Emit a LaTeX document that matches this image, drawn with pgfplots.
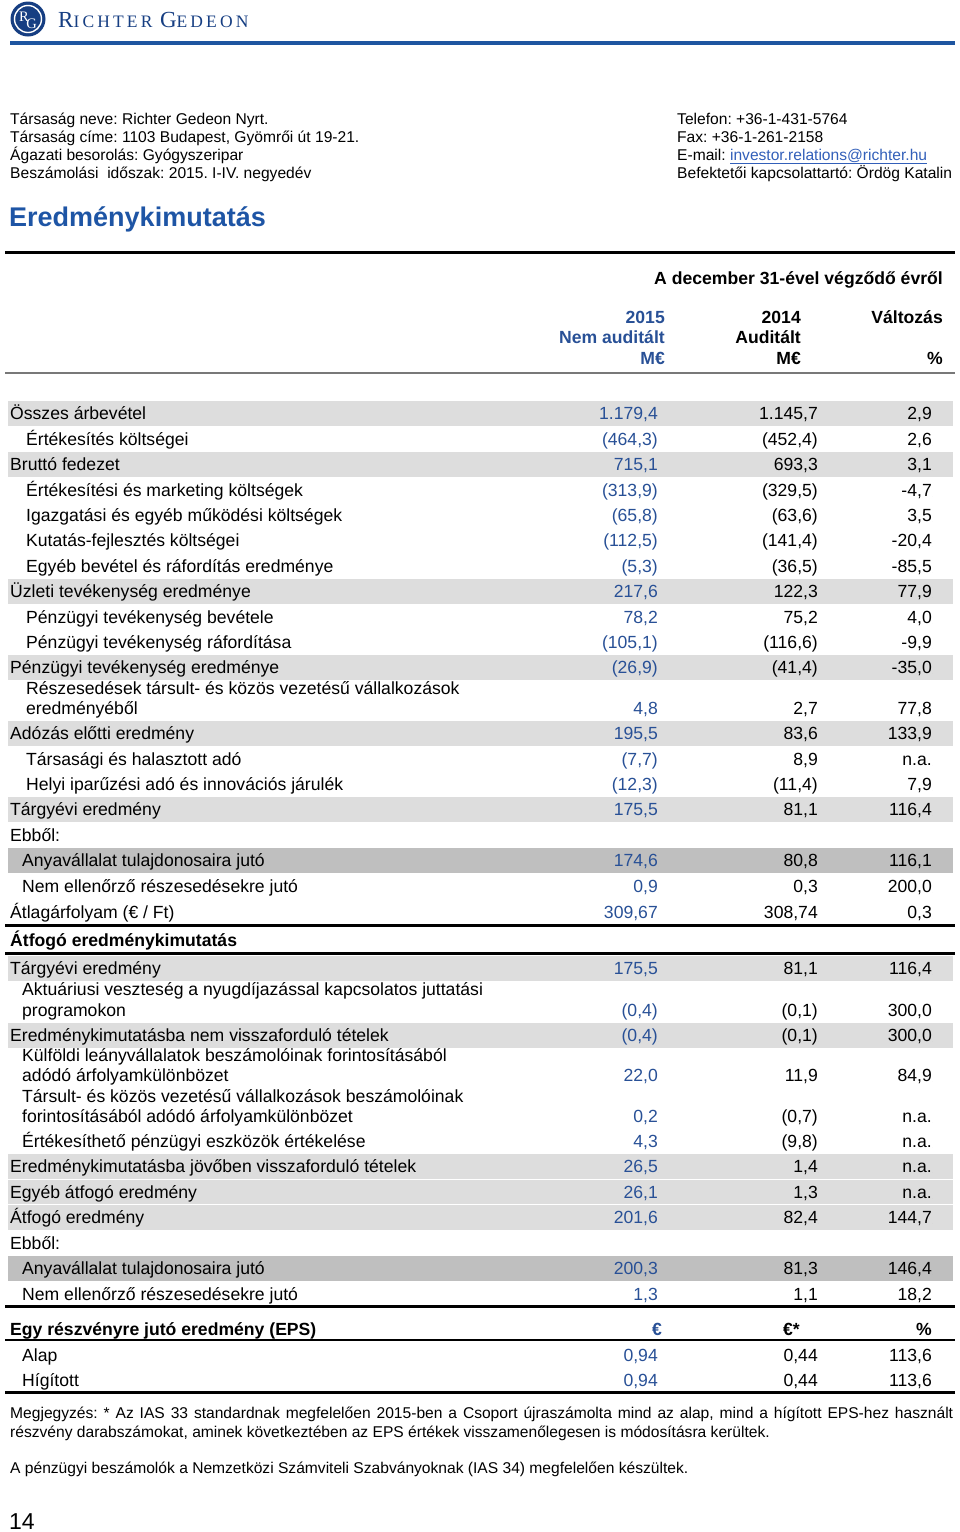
\documentclass[border=0pt]{standalone}
\usepackage{pgfplots}
\pgfplotsset{compat=1.18}
\usepackage{pgfplotstable}
\usepackage{fontspec}
\setmainfont{Liberation Sans}
\newfontfamily\seriffont{Liberation Serif}
\newfontfamily\logofont[LetterSpace=18]{Liberation Serif}
\definecolor{numblue}{RGB}{40,80,150}
\definecolor{titleblue}{RGB}{30,85,165}
\definecolor{logoblue}{RGB}{22,62,130}
\definecolor{ruleblue}{RGB}{30,85,160}
\definecolor{linkblue}{RGB}{50,95,185}
\definecolor{shadeA}{RGB}{221,221,221}
\definecolor{shadeB}{RGB}{191,191,191}
\definecolor{rulegray}{RGB}{120,120,120}
\newcommand\rf{\fontsize{17.6}{20}\selectfont}
\newcommand\infofont{\fontsize{15.6}{18.5}\selectfont}
\newcommand\notefont{\fontsize{15.6}{19}\selectfont}
\tikzset{
  lb/.style={anchor=base west, inner sep=0pt, font=\rf},
  lbb/.style={anchor=base west, inner sep=0pt, font=\rf\bfseries},
  rb/.style={anchor=base east, inner sep=0pt, font=\rf\bfseries},
  inf/.style={anchor=base west, inner sep=0pt, font=\infofont},
}

\pgfplotstableread[col sep=semicolon]{
y;a;b;c
419;1.179,4;1.145,7;2,9
445;(464,3);(452,4);2,6
470;715,1;693,3;3,1
496;(313,9);(329,5);-4,7
521;(65,8);(63,6);3,5
546;(112,5);(141,4);-20,4
572;(5,3);(36,5);-85,5
597;217,6;122,3;77,9
623;78,2;75,2;4,0
648;(105,1);(116,6);-9,9
673;(26,9);(41,4);-35,0
714;4,8;2,7;77,8
739;195,5;83,6;133,9
765;(7,7);8,9;n.a.
790;(12,3);(11,4);7,9
815;175,5;81,1;116,4
866;174,6;80,8;116,1
892;0,9;0,3;200,0
918;309,67;308,74;0,3
974;175,5;81,1;116,4
1016;(0,4);(0,1);300,0
1041;(0,4);(0,1);300,0
1081;22,0;11,9;84,9
1122;0,2;(0,7);n.a.
1147;4,3;(9,8);n.a.
1172;26,5;1,4;n.a.
1198;26,1;1,3;n.a.
1223;201,6;82,4;144,7
1274;200,3;81,3;146,4
1300;1,3;1,1;18,2
1361;0,94;0,44;113,6
1386;0,94;0,44;113,6
}\vals

\begin{document}
\frenchspacing
\begin{tikzpicture}
\begin{axis}[
  width=960pt, height=1532pt, scale only axis,
  xmin=0, xmax=960, ymin=0, ymax=1532, y dir=reverse,
  hide axis, clip=false,
  valnode/.style={only marks, mark=*, mark size=0pt,
    mark options={draw=none, fill=none},
    nodes near coords, point meta=explicit symbolic,
    every node near coord/.style={anchor=base east, inner sep=0pt, font=\rf}},
]
% page frame (invisible) so the picture spans exactly 960 x 1532
\path (axis cs:0,0) rectangle (axis cs:960,1532);
% ---------- header logo ----------
\fill[logoblue] (axis cs:28,19) circle[radius=17.5pt];
\draw[white, line width=1.4pt] (axis cs:28,19) circle[radius=13.5pt];
\node[anchor=base, inner sep=0pt, text=white, font=\seriffont\fontsize{14.5}{14.5}\selectfont] at (axis cs:24,21) {R};
\node[anchor=base, inner sep=0pt, text=white, font=\seriffont\fontsize{14.5}{14.5}\selectfont] at (axis cs:31.5,28.5) {G};
\node[anchor=base west, inner sep=0pt, text=logoblue] at (axis cs:58,27)
  {\logofont\fontsize{23}{23}\selectfont R\fontsize{17.5}{17.5}\selectfont ICHTER \fontsize{23}{23}\selectfont G\fontsize{17.5}{17.5}\selectfont EDEON};
\draw[ruleblue, line width=4pt] (axis cs:10,43) -- (axis cs:955,43);

% ---------- company info ----------
\node[inf] at (axis cs:10,124) {Társaság neve: Richter Gedeon Nyrt.};
\node[inf] at (axis cs:10,142) {Társaság címe: 1103 Budapest, Gyömrői út 19-21.};
\node[inf] at (axis cs:10,160) {Ágazati besorolás: Gyógyszeripar};
\node[inf] at (axis cs:10,178) {Beszámolási\ \ időszak: 2015. I-IV. negyedév};
\node[inf] at (axis cs:677,124) {Telefon: +36-1-431-5764};
\node[inf] at (axis cs:677,142) {Fax: +36-1-261-2158};
\node[inf] at (axis cs:677,160) {E-mail: \textcolor{linkblue}{\underline{investor.relations@richter.hu}}};
\node[inf] at (axis cs:677,178) {Befektetői kapcsolattartó: Ördög Katalin};

\node[anchor=base west, inner sep=0pt, text=titleblue, font=\fontsize{27}{30}\selectfont\bfseries] at (axis cs:9,226) {Eredménykimutatás};

% ---------- table header ----------
\draw[black, line width=3pt] (axis cs:5,252) -- (axis cs:955,252);
\node[rb] at (axis cs:943,284) {A december 31-ével végződő évről};
\node[rb, text=numblue] at (axis cs:665,323) {2015};
\node[rb, text=numblue] at (axis cs:665,343) {Nem auditált};
\node[rb, text=numblue] at (axis cs:665,364) {M€};
\node[rb] at (axis cs:801,323) {2014};
\node[rb] at (axis cs:801,343) {Auditált};
\node[rb] at (axis cs:801,364) {M€};
\node[rb] at (axis cs:943,323) {Változás};
\node[rb] at (axis cs:943,364) {\%};
\draw[rulegray, line width=2.5pt] (axis cs:5,373) -- (axis cs:955,373);

% ---------- row shading ----------
\fill[shadeA] (axis cs:8,401) rectangle (axis cs:953,426);
\fill[shadeA] (axis cs:8,452) rectangle (axis cs:953,477);
\fill[shadeA] (axis cs:8,579) rectangle (axis cs:953,604);
\fill[shadeA] (axis cs:8,655) rectangle (axis cs:953,680);
\fill[shadeA] (axis cs:8,721) rectangle (axis cs:953,746);
\fill[shadeA] (axis cs:8,797) rectangle (axis cs:953,822);
\fill[shadeB] (axis cs:8,848) rectangle (axis cs:953,873);
\fill[shadeA] (axis cs:8,956) rectangle (axis cs:953,981);
\fill[shadeA] (axis cs:8,1023) rectangle (axis cs:953,1048);
\fill[shadeA] (axis cs:8,1154) rectangle (axis cs:953,1179);
\fill[shadeA] (axis cs:8,1180) rectangle (axis cs:953,1204);
\fill[shadeA] (axis cs:8,1205) rectangle (axis cs:953,1230);
\fill[shadeB] (axis cs:8,1256) rectangle (axis cs:953,1281);

% ---------- rules ----------
\draw[black, line width=3pt] (axis cs:5,925) -- (axis cs:955,925);
\draw[black, line width=3pt] (axis cs:5,953) -- (axis cs:955,953);
\draw[black, line width=3pt] (axis cs:5,1306) -- (axis cs:955,1306);
\draw[black, line width=1.5pt] (axis cs:5,1340) -- (axis cs:955,1340);
\draw[black, line width=3pt] (axis cs:5,1392) -- (axis cs:955,1392);

% ---------- row labels ----------
\node[lb] at (axis cs:10,419) {Összes árbevétel};
\node[lb] at (axis cs:26,445) {Értékesítés költségei};
\node[lb] at (axis cs:10,470) {Bruttó fedezet};
\node[lb] at (axis cs:26,496) {Értékesítési és marketing költségek};
\node[lb] at (axis cs:26,521) {Igazgatási és egyéb működési költségek};
\node[lb] at (axis cs:26,546) {Kutatás-fejlesztés költségei};
\node[lb] at (axis cs:26,572) {Egyéb bevétel és ráfordítás eredménye};
\node[lb] at (axis cs:10,597) {Üzleti tevékenység eredménye};
\node[lb] at (axis cs:26,623) {Pénzügyi tevékenység bevétele};
\node[lb] at (axis cs:26,648) {Pénzügyi tevékenység ráfordítása};
\node[lb] at (axis cs:10,673) {Pénzügyi tevékenység eredménye};
\node[lb] at (axis cs:26,694) {Részesedések társult- és közös vezetésű vállalkozások};
\node[lb] at (axis cs:26,714) {eredményéből};
\node[lb] at (axis cs:10,739) {Adózás előtti eredmény};
\node[lb] at (axis cs:26,765) {Társasági és halasztott adó};
\node[lb] at (axis cs:26,790) {Helyi iparűzési adó és innovációs járulék};
\node[lb] at (axis cs:10,815) {Tárgyévi eredmény};
\node[lb] at (axis cs:10,841) {Ebből:};
\node[lb] at (axis cs:22,866) {Anyavállalat tulajdonosaira jutó};
\node[lb] at (axis cs:22,892) {Nem ellenőrző részesedésekre jutó};
\node[lb] at (axis cs:10,918) {Átlagárfolyam (€ / Ft)};
\node[lbb] at (axis cs:10,946) {Átfogó eredménykimutatás};
\node[lb] at (axis cs:10,974) {Tárgyévi eredmény};
\node[lb] at (axis cs:22,995) {Aktuáriusi veszteség a nyugdíjazással kapcsolatos juttatási};
\node[lb] at (axis cs:22,1016) {programokon};
\node[lb] at (axis cs:10,1041) {Eredménykimutatásba nem visszaforduló tételek};
\node[lb] at (axis cs:22,1061) {Külföldi leányvállalatok beszámolóinak forintosításából};
\node[lb] at (axis cs:22,1081) {adódó árfolyamkülönbözet};
\node[lb] at (axis cs:22,1102) {Társult- és közös vezetésű vállalkozások beszámolóinak};
\node[lb] at (axis cs:22,1122) {forintosításából adódó árfolyamkülönbözet};
\node[lb] at (axis cs:22,1147) {Értékesíthető pénzügyi eszközök értékelése};
\node[lb] at (axis cs:10,1172) {Eredménykimutatásba jövőben visszaforduló tételek};
\node[lb] at (axis cs:10,1198) {Egyéb átfogó eredmény};
\node[lb] at (axis cs:10,1223) {Átfogó eredmény};
\node[lb] at (axis cs:10,1249) {Ebből:};
\node[lb] at (axis cs:22,1274) {Anyavállalat tulajdonosaira jutó};
\node[lb] at (axis cs:22,1300) {Nem ellenőrző részesedésekre jutó};
\node[lbb] at (axis cs:10,1335) {Egy részvényre jutó eredmény (EPS)};
\node[rb, text=numblue] at (axis cs:662,1335) {€};
\node[rb] at (axis cs:800,1335) {€*};
\node[rb] at (axis cs:932,1335) {\%};
\node[lb] at (axis cs:22,1361) {Alap};
\node[lb] at (axis cs:22,1386) {Hígított};

% ---------- values ----------
\addplot[valnode, every node near coord/.append style={text=numblue}]
  table[x expr=658, y=y, meta=a] {\vals};
\addplot[valnode] table[x expr=818, y=y, meta=b] {\vals};
\addplot[valnode] table[x expr=932, y=y, meta=c] {\vals};

% ---------- notes ----------
\node[anchor=base west, inner sep=0pt, font=\notefont] at (axis cs:10,1418)
  {\makebox[943pt][s]{Megjegyzés: * Az IAS 33 standardnak megfelelően 2015-ben a Csoport újraszámolta mind az alap, mind a hígított EPS-hez használt}};
\node[anchor=base west, inner sep=0pt, font=\notefont] at (axis cs:10,1437)
  {részvény darabszámokat, aminek következtében az EPS értékek visszamenőlegesen is módosításra kerültek.};
\node[anchor=base west, inner sep=0pt, font=\notefont] at (axis cs:10,1473)
  {A pénzügyi beszámolók a Nemzetközi Számviteli Szabványoknak (IAS 34) megfelelően készültek.};
\node[anchor=base west, inner sep=0pt, font=\fontsize{23}{23}\selectfont] at (axis cs:9,1529) {14};
\end{axis}
\end{tikzpicture}
\end{document}
